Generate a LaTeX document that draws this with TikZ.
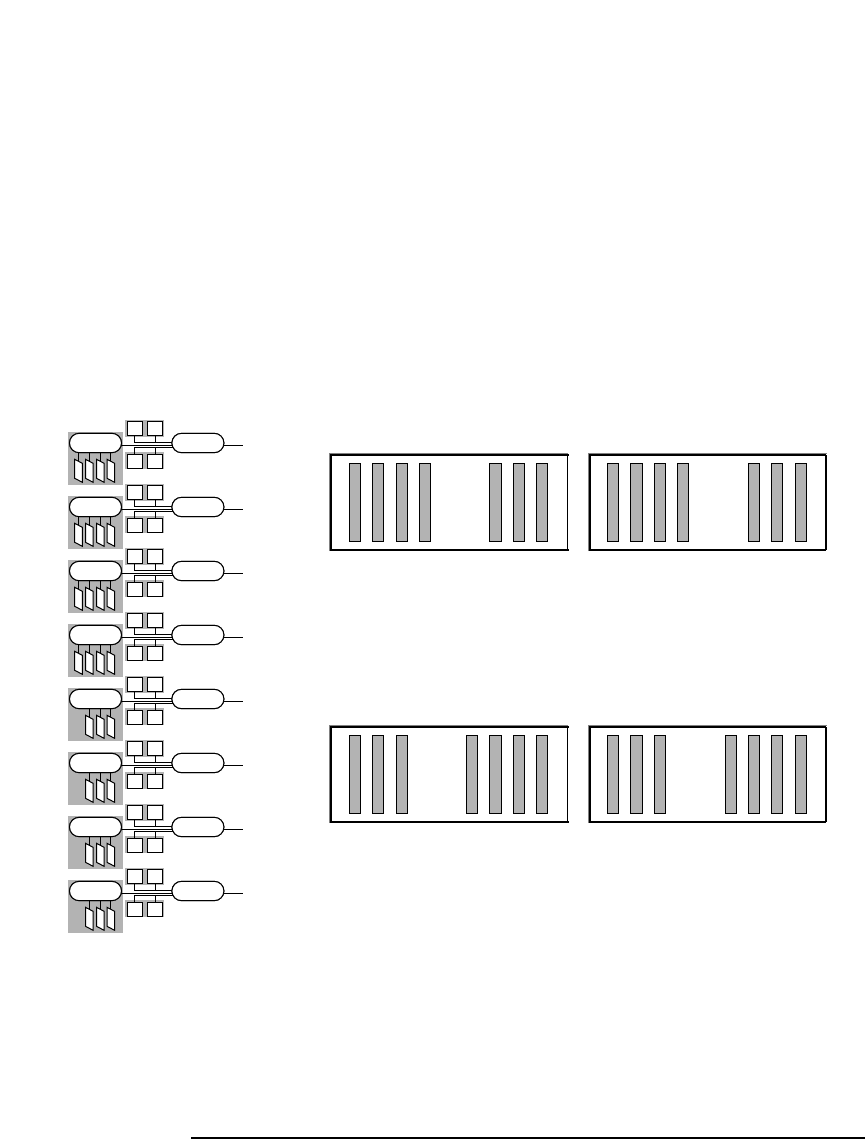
\documentclass[tikz,border=0pt]{standalone}
\usetikzlibrary{shapes.misc}
\definecolor{gr}{HTML}{B3B3B3}
\tikzset{
  x=1pt,y=-1pt,
  wire/.style={draw=black,line width=1pt},
  pill/.style={rounded rectangle,draw=black,line width=1pt,fill=white,minimum width=52pt,minimum height=19.3pt,inner sep=0pt,outer sep=0pt},
  sq/.style={rectangle,draw=black,line width=1pt,fill=white,minimum width=15pt,minimum height=14.6pt,inner sep=0pt,outer sep=0pt},
  shade/.style={fill=gr,draw=none},
  card/.style={draw=black,line width=1pt,fill=white},
  bar/.style={rectangle,draw=black,line width=0.7pt,fill=gr,minimum width=11.4pt,minimum height=78.4pt,inner sep=0pt,outer sep=0pt},
}
% #1 name, #2 left, #3 top, #4 bars, #5 width, #6 right line width, #7 top overshoot
\newcommand{\chassis}[7]{%
  \draw[draw=black!50,line width=1.4pt] (#2-1.5,#3+96) -- (#2-1.5,#3-1.5) -- (#2+#5+0.6,#3-1.5);
  \draw[draw=black,line width=2pt] (#2+#5+#7,#3) -- (#2,#3) -- (#2,#3+94.7) -- (#2+#5+#7,#3+94.7);
  \draw[draw=black,line width=#6] (#2+#5,#3) -- (#2+#5,#3+94.7);
  \foreach \bx [count=\n] in {#4} \node[bar] (#1b\n) at (\bx,#3+47.6) {};
}
\begin{document}
\begin{tikzpicture}
\useasboundingbox (0,0) rectangle (865,1139);
\fill[white] (0,0) rectangle (865,1139);
\foreach \i in {0,...,7}{
  \pgfmathsetmacro{\dy}{64*\i}
  \begin{scope}[yshift=-\dy pt]
    \fill[shade] (68,432) rectangle (123,485);
    \fill[shade] (125,420) rectangle (163.7,436.7);
    \fill[shade] (125,452.3) rectangle (163.7,469.3);
    \node[pill] (a\i) at (95.5,443) {};
    \node[pill] (c\i) at (197.9,443) {};
    \node[sq] (t\i l) at (134.5,428.5) {};
    \node[sq] (t\i r) at (155,428.5) {};
    \node[sq] (u\i l) at (134.5,461.5) {};
    \node[sq] (u\i r) at (155,461.5) {};
    \coordinate (j\i a) at (134.5,442.6);
    \coordinate (j\i b) at (155,442.6);
    \coordinate (k\i a) at (134.5,447.4);
    \coordinate (k\i b) at (155,447.4);
    \coordinate (e\i) at (243,445);
    \coordinate (ae\i) at (121.4,445);
    \coordinate (ce\i) at (172,445);
    \coordinate (ct\i) at (172.8,442.6);
    \coordinate (cb\i) at (172.8,447.4);
    \coordinate (cr\i) at (223.8,445);
    \draw[wire] (ae\i) -- (ce\i);
    \draw[wire] (cr\i) -- (e\i);
    \draw[wire] (t\i l.south) -- (j\i a) -- (ct\i);
    \draw[wire] (t\i r.south) -- (j\i b);
    \draw[wire] (u\i l.north) -- (k\i a) -- (cb\i);
    \draw[wire] (u\i r.north) -- (k\i b);
    \ifnum\i<4
      \coordinate (d\i 1) at (78.4,461);
      \draw[wire] (d\i 1 |- a\i.south) -- (d\i 1);
      \draw[card] (74.7,459.3) -- (82.3,463.3) -- (82.3,482.3) -- (74.7,478.3) -- cycle;
    \fi
    \foreach \n/\px in {2/85.5,3/96.5,4/107}{
      \coordinate (d\i\n) at (\px+3.8,461);
      \draw[wire] (d\i\n |- a\i.south) -- (d\i\n);
      \draw[card] (\px,459.3) -- (\px+7.6,463.3) -- (\px+7.6,482.3) -- (\px,478.3) -- cycle;
    }
    \node[pill] at (a\i) {};
    \node[pill] at (c\i) {};
  \end{scope}
}
\chassis{A}{330.7}{455}{355,378,402,425,495.5,519,542}{236.6}{1pt}{1.4}
\chassis{B}{589.7}{455}{613,636.5,660,683,754,777,801}{236.4}{2pt}{0}
\chassis{C}{330.7}{727}{355,378,402,472,495.5,519,542}{236.6}{1pt}{1.4}
\chassis{D}{589.7}{727}{613,636.5,660,731,754,777,801}{236.4}{2pt}{0}
\coordinate (rl) at (191,1137.7);
\coordinate (rr) at (865,1137.7);
\draw[draw=black,line width=2pt] (rl) -- (rr);
\end{tikzpicture}
\end{document}
